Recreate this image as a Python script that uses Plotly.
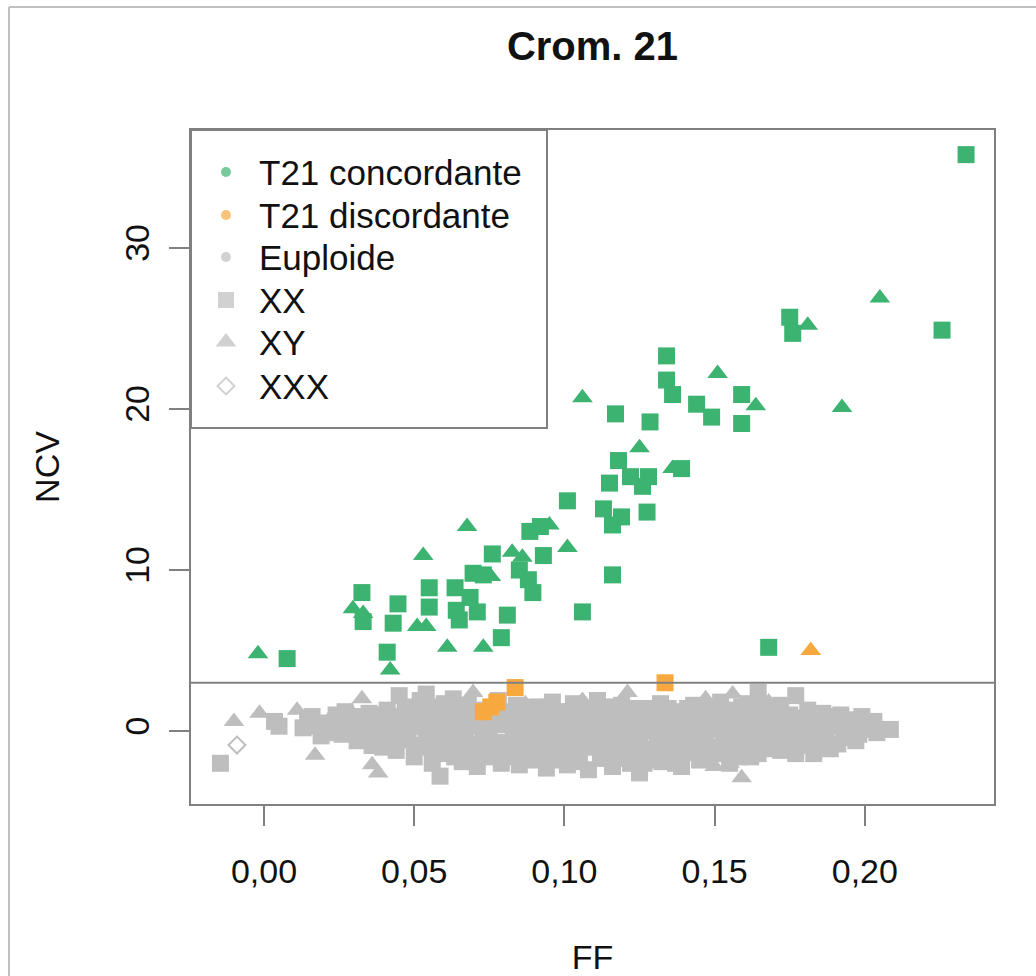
import plotly.graph_objects as go

# ---------------- data ----------------
# T21 concordante (green)
t21c_xx_ff = [0.0077, 0.0326, 0.033, 0.0446, 0.043, 0.055, 0.055, 0.041, 0.134, 0.134,
              0.136, 0.144, 0.149, 0.117, 0.1285, 0.118, 0.128, 0.126, 0.139, 0.115,
              0.122, 0.101, 0.113, 0.119, 0.116, 0.1275, 0.0885, 0.092, 0.076, 0.093,
              0.085, 0.088, 0.0895, 0.116, 0.106, 0.0636, 0.0696, 0.073, 0.064, 0.065,
              0.071, 0.0686, 0.081, 0.079, 0.2337, 0.2257, 0.175, 0.176, 0.159, 0.159,
              0.168]
t21c_xx_ncv = [4.5, 8.6, 6.8, 7.9, 6.7, 8.9, 7.7, 4.9, 23.3, 21.8,
               20.9, 20.3, 19.5, 19.7, 19.2, 16.8, 15.8, 15.2, 16.3, 15.4,
               15.8, 14.3, 13.8, 13.3, 12.8, 13.6, 12.4, 12.7, 11.0, 10.9,
               10.0, 9.4, 8.6, 9.7, 7.4, 8.9, 9.8, 9.7, 7.5, 6.9,
               7.4, 8.3, 7.2, 5.8, 35.8, 24.9, 25.7, 24.7, 20.9, 19.1,
               5.2]
t21c_xy_ff = [-0.002, 0.053, 0.0296, 0.033, 0.051, 0.054, 0.061, 0.042, 0.151, 0.106,
              0.125, 0.136, 0.0676, 0.095, 0.101, 0.0826, 0.086, 0.073, 0.205, 0.181,
              0.1924, 0.1637, 0.0755]
t21c_xy_ncv = [4.8, 10.9, 7.6, 7.3, 6.5, 6.5, 5.2, 3.8, 22.2, 20.7,
               17.6, 16.3, 12.7, 12.8, 11.4, 11.1, 10.8, 5.2, 26.9, 25.2,
               20.1, 20.2, 9.6]

# T21 discordante (orange)
t21d_xx_ff = [0.073, 0.0755, 0.0775, 0.0836, 0.1335]
t21d_xx_ncv = [1.2, 1.5, 1.8, 2.7, 3.0]
t21d_xy_ff = [0.182]
t21d_xy_ncv = [5.0]

# Euploide (gray) - XX
eup_xx_ff = [-0.0145, 0.0035, 0.005,
             0.013, 0.016, 0.019, 0.021, 0.024, 0.026, 0.028, 0.030, 0.031, 0.033,
             0.035, 0.036, 0.038, 0.040, 0.041, 0.043, 0.044, 0.045, 0.046, 0.048,
             0.049, 0.050, 0.051, 0.052, 0.053, 0.054, 0.055, 0.056, 0.057, 0.0586,
             0.059, 0.060, 0.061, 0.062, 0.063, 0.064, 0.065, 0.066, 0.067, 0.068,
             0.069, 0.070, 0.071, 0.072, 0.073, 0.074, 0.075, 0.076, 0.077, 0.078,
             0.079, 0.080, 0.081, 0.082, 0.083, 0.084, 0.085, 0.086, 0.087, 0.088,
             0.089, 0.090, 0.091, 0.092, 0.093, 0.094, 0.095, 0.096, 0.097, 0.098,
             0.099, 0.100, 0.101, 0.102, 0.103, 0.104, 0.105, 0.106, 0.107, 0.108,
             0.109, 0.110, 0.111, 0.112, 0.113, 0.114, 0.115, 0.116, 0.117, 0.118,
             0.119, 0.120, 0.121, 0.122, 0.123, 0.124, 0.125, 0.126, 0.127, 0.128,
             0.129, 0.130, 0.131, 0.132, 0.133, 0.134, 0.135, 0.136, 0.137, 0.138,
             0.139, 0.140, 0.141, 0.142, 0.143, 0.144, 0.145, 0.146, 0.147, 0.148,
             0.149, 0.150, 0.151, 0.152, 0.153, 0.154, 0.155, 0.156, 0.157, 0.158,
             0.159, 0.160, 0.161, 0.162, 0.163, 0.1645, 0.165, 0.166, 0.167, 0.168,
             0.170, 0.171, 0.172, 0.173, 0.175, 0.176, 0.177, 0.178, 0.180, 0.181,
             0.183, 0.184, 0.186, 0.187, 0.189, 0.191, 0.192, 0.194, 0.196, 0.198,
             0.200, 0.203, 0.206, 0.2085,
             # inner part of the cloud
             0.0145, 0.018, 0.0225, 0.025, 0.027, 0.0295, 0.032, 0.034, 0.037, 0.039,
             0.0395, 0.042, 0.0435, 0.046, 0.047, 0.0495, 0.051, 0.0525, 0.054, 0.056,
             0.0565, 0.058, 0.0595, 0.061, 0.0625, 0.0635, 0.065, 0.066, 0.0675, 0.069,
             0.0705, 0.071, 0.0725, 0.0735, 0.075, 0.0765, 0.0775, 0.079, 0.0805, 0.081,
             0.0825, 0.084, 0.085, 0.0865, 0.0875, 0.089, 0.0895, 0.091, 0.092, 0.0935,
             0.095, 0.0955, 0.097, 0.098, 0.0995, 0.1005, 0.102, 0.103, 0.1045, 0.105,
             0.1065, 0.108, 0.1085, 0.110, 0.1105, 0.112, 0.1125, 0.114, 0.115, 0.1165,
             0.117, 0.1185, 0.119, 0.1205, 0.121, 0.1225, 0.123, 0.1245, 0.125, 0.126,
             0.1265, 0.128, 0.129, 0.1305, 0.131, 0.1325, 0.133, 0.1345, 0.135, 0.1365,
             0.137, 0.1385, 0.139, 0.1405, 0.141, 0.1425, 0.143, 0.1445, 0.145, 0.1465,
             0.147, 0.1485, 0.149, 0.1505, 0.151, 0.1525, 0.153, 0.1545, 0.155, 0.1565,
             0.157, 0.1585, 0.159, 0.1605, 0.161, 0.1625, 0.163, 0.1645, 0.166, 0.1665,
             0.169, 0.1695, 0.171, 0.172, 0.174, 0.1745, 0.176, 0.177, 0.179, 0.1795,
             0.181, 0.182, 0.1835, 0.185, 0.1855, 0.188, 0.1885, 0.190, 0.193, 0.195,
             0.197, 0.199, 0.201, 0.204]
eup_xx_ncv = [-2.0, 0.6, 0.3,
              0.2, 0.9, -0.3, 0.5, 1.0, -0.2, 0.4, 0.9, -0.6, 0.2,
              1.1, -0.9, 0.5, -0.3, 1.3, 0.0, -1.2, 2.2, 0.8, -0.5,
              1.5, -1.6, 0.3, 1.9, -0.9, 2.3, 0.6, -2.0, 1.2, -2.8,
              -0.2, 1.7, -1.4, 0.4, 2.0, -0.7, 1.0, -1.9, 0.1, 1.6,
              -1.1, 0.7, -2.2, 1.3, -0.4, 0.2, -1.6, 0.9, -0.9, 1.9,
              -2.0, 0.4, 1.2, -1.3, -0.1, 1.6, -2.1, 0.6, -0.6, 1.0,
              -1.8, 0.2, 1.5, -1.0, 0.8, -2.3, -0.3, 1.8, -1.5, 0.5,
              1.2, -0.8, -2.1, 0.1, 1.7, -1.3, 0.7, -0.4, 1.3, -2.4,
              0.3, -1.0, 1.9, -1.7, 0.6, -0.2, 1.1, -2.2, 0.9, -0.7,
              1.6, -1.4, 0.2, -2.0, 1.0, -0.5, -2.6, 0.5, 1.4, -1.1,
              0.0, -1.8, 0.8, 1.7, -0.6, -1.5, 0.4, 1.2, -2.0, -0.2,
              -2.2, 1.0, -0.9, 0.3, 1.6, -1.3, 0.7, -0.3, 1.3, -1.7,
              0.1, 0.9, -1.0, 1.8, -0.5, 0.5, -2.0, 1.1, -1.4, 0.2,
              1.5, -0.8, 0.6, -1.6, 1.2, 2.4, -0.2, 0.8, -1.1, 0.3,
              1.3, -0.6, -1.2, 0.5, 1.0, -0.9, 2.2, 0.1, 0.8, -0.4,
              -1.4, 0.5, 1.1, -0.3, 0.6, -0.8, 1.0, 0.2, 0.7, -0.2,
              0.4, 0.6, 0.1, 0.1,
              0.6, 0.3, -0.1, 0.6, 1.2, -0.1, 0.7, -0.4, 1.0, 0.1,
              -1.0, -0.6, 0.9, -0.2, 1.3, 0.4, -1.0, 0.9, -0.3, 1.5,
              -1.2, 0.3, -0.9, 1.0, -0.4, -1.6, 0.4, 1.5, -0.8, 0.3,
              -1.6, 1.1, -0.9, 0.6, -0.1, -1.3, 0.5, -0.7, 1.0, -1.6,
              0.6, -0.6, 1.2, -1.4, 0.3, -0.3, 1.3, -1.6, 0.5, -0.5,
              1.1, -1.8, 0.3, -0.8, 0.9, -1.5, 1.2, -0.6, 0.3, -1.9,
              1.0, -0.9, 0.6, 1.4, -0.3, -1.3, 0.4, 1.5, -0.9, 0.3,
              -1.7, 1.1, -0.2, 0.7, -1.0, 1.4, -1.6, 0.4, -0.8, 1.3,
              -2.0, 0.6, -1.3, 1.2, -0.3, -1.9, 0.6, 1.4, -1.0, 0.0,
              -1.5, 0.9, -0.7, 0.3, 1.4, -1.2, -0.3, 0.8, -1.8, 0.4,
              -0.8, 1.0, -1.2, 0.4, 1.4, -1.4, 0.1, -0.8, 1.3, -0.2,
              0.6, -1.6, 0.9, -0.2, 1.7, -0.9, 0.4, -1.4, 1.4, -0.6,
              0.9, -1.0, 0.4, 1.6, -0.4, 0.8, 0.2, -1.4, 0.5, -0.9,
              1.3, -0.1, 0.9, -0.7, 0.3, 0.9, -1.1, 0.3, -0.4, 0.5,
              -0.6, 0.9, 0.1, -0.1]

# Euploide (gray) - XY
eup_xy_ff = [-0.010, -0.0015, 0.011, 0.017, 0.022, 0.029, 0.0326, 0.036, 0.038, 0.042,
             0.047, 0.058, 0.064, 0.0696, 0.074, 0.079, 0.087, 0.093, 0.099, 0.106,
             0.112, 0.121, 0.127, 0.134, 0.141, 0.147, 0.150, 0.155, 0.156, 0.159,
             0.162, 0.168, 0.172, 0.188, 0.196]
eup_xy_ncv = [0.6, 1.1, 1.3, -1.5, 0.8, 1.2, 2.0, -2.1, -2.6, 0.6,
              -0.8, 0.9, -1.6, 2.4, -1.0, 0.9, 1.7, -1.4, -0.2, 1.9,
              -0.8, 2.4, -1.2, 0.8, -1.6, 2.0, -2.2, -2.0, 2.3, -2.9,
              0.1, 1.8, -1.2, -0.4, 0.2]

# XXX (open diamond)
xxx_ff = [-0.009]
xxx_ncv = [-0.87]

threshold = 3

x_tick_vals = [0.00, 0.05, 0.10, 0.15, 0.20]
x_tick_text = ["0,00", "0,05", "0,10", "0,15", "0,20"]
y_tick_vals = [0, 10, 20, 30]
y_tick_text = ["0", "10", "20", "30"]

legend_labels = ["T21 concordante", "T21 discordante", "Euploide", "XX", "XY", "XXX"]

# ---------------- styles ----------------
GREEN = "#3CB371"
ORANGE = "#F7A940"
GRAY = "#BEBEBE"
AXC = "#808080"
TXT = "#111111"
FONT = "Liberation Sans, Arial, Helvetica, sans-serif"

SQ = 17
TR = 18

fig = go.Figure()

def add(xs, ys, color, symbol, size, lw=0):
    fig.add_trace(go.Scatter(
        x=xs, y=ys, mode="markers", showlegend=False, hoverinfo="x+y",
        marker=dict(symbol=symbol, size=size, color=color,
                    line=dict(width=lw, color=color)),
    ))

add(eup_xx_ff, eup_xx_ncv, GRAY, "square", SQ)
add(eup_xy_ff, eup_xy_ncv, GRAY, "triangle-up", TR)
add(xxx_ff, xxx_ncv, GRAY, "diamond-open", 13, 2)
add(t21d_xx_ff, t21d_xx_ncv, ORANGE, "square", SQ)
add(t21d_xy_ff, t21d_xy_ncv, ORANGE, "triangle-up", TR)
add(t21c_xx_ff, t21c_xx_ncv, GREEN, "square", SQ)
add(t21c_xy_ff, t21c_xy_ncv, GREEN, "triangle-up", TR)

# ---------------- manual legend (overlay axes in [0,1]) ----------------
plot_l, plot_r, plot_t, plot_b = 191, 994, 130, 804
W, H = plot_r - plot_l, plot_b - plot_t
def px_x(p):
    return (p - plot_l) / W
def px_y(p):
    return (plot_b - p) / H

leg_rows_px = [172, 215, 257, 300, 342, 386]
leg_sym_x = px_x(226)
leg_txt_x = px_x(257)
leg_colors = [GREEN, ORANGE, GRAY, GRAY, GRAY, GRAY]
leg_symbols = ["circle", "circle", "circle", "square", "triangle-up", "diamond-open"]
leg_sizes = [10, 10, 10, 16, 18, 13]
fig.add_trace(go.Scatter(
    x=[leg_sym_x] * 6, y=[px_y(p) for p in leg_rows_px],
    xaxis="x2", yaxis="y2", mode="markers", showlegend=False, hoverinfo="skip",
    cliponaxis=False,
    marker=dict(symbol=leg_symbols, size=leg_sizes, color=leg_colors,
                line=dict(width=[0, 0, 0, 0, 0, 2], color=leg_colors)),
))
annotations = []
for lab, p in zip(legend_labels, leg_rows_px):
    annotations.append(dict(
        x=leg_txt_x, y=px_y(p), xref="paper", yref="paper", text=lab,
        showarrow=False, xanchor="left", yanchor="middle",
        font=dict(family=FONT, size=35, color=TXT),
    ))

shapes = [
    # legend box
    dict(type="rect", xref="paper", yref="paper", x0=0, x1=px_x(547), y0=px_y(428), y1=1,
         line=dict(color=AXC, width=2), fillcolor="rgba(0,0,0,0)", layer="above"),
    # threshold line
    dict(type="line", xref="paper", yref="y", x0=0, x1=1, y0=threshold, y1=threshold,
         line=dict(color=AXC, width=2)),
    # outer frame (top and left)
    dict(type="line", xref="paper", yref="paper", x0=px_x(9), x1=px_x(1040),
         y0=px_y(7), y1=px_y(7), line=dict(color="#C0C0C0", width=2)),
    dict(type="line", xref="paper", yref="paper", x0=px_x(9), x1=px_x(9),
         y0=px_y(7), y1=px_y(980), line=dict(color="#C0C0C0", width=2)),
]

fig.update_layout(
    width=1036, height=976,
    margin=dict(l=plot_l, r=1036 - plot_r, t=plot_t, b=976 - plot_b),
    paper_bgcolor="white", plot_bgcolor="white",
    font=dict(family=FONT, size=34, color=TXT),
    title=dict(text="<b>Crom. 21</b>", x=0.5, xref="paper", xanchor="center",
               y=1 - 46 / 976, yref="container", yanchor="middle",
               font=dict(family=FONT, size=40, color=TXT)),
    showlegend=False,
    shapes=shapes,
    annotations=annotations,
    xaxis=dict(
        range=[-0.0243, 0.2430], tickvals=x_tick_vals, ticktext=x_tick_text,
        showgrid=False, zeroline=False, showline=True, mirror=True,
        linecolor=AXC, linewidth=2, ticks="outside", ticklen=20, tickwidth=2,
        tickcolor=AXC, ticklabelstandoff=16,
        tickfont=dict(family=FONT, size=34, color=TXT),
        title=dict(text="FF", standoff=62, font=dict(family=FONT, size=34, color=TXT)),
        automargin=False,
    ),
    yaxis=dict(
        range=[-4.53, 37.33], tickvals=y_tick_vals, ticktext=y_tick_text,
        showgrid=False, zeroline=False, showline=True, mirror=True,
        linecolor=AXC, linewidth=2, ticks="outside", ticklen=20, tickwidth=2,
        tickcolor=AXC, tickangle=-90, ticklabelstandoff=6,
        tickfont=dict(family=FONT, size=34, color=TXT),
        title=dict(text="NCV", standoff=49, font=dict(family=FONT, size=34, color=TXT)),
        automargin=False,
    ),
    xaxis2=dict(range=[0, 1], overlaying="x", visible=False, fixedrange=True),
    yaxis2=dict(range=[0, 1], overlaying="y", visible=False, fixedrange=True),
)

fig.write_html("out.html")
